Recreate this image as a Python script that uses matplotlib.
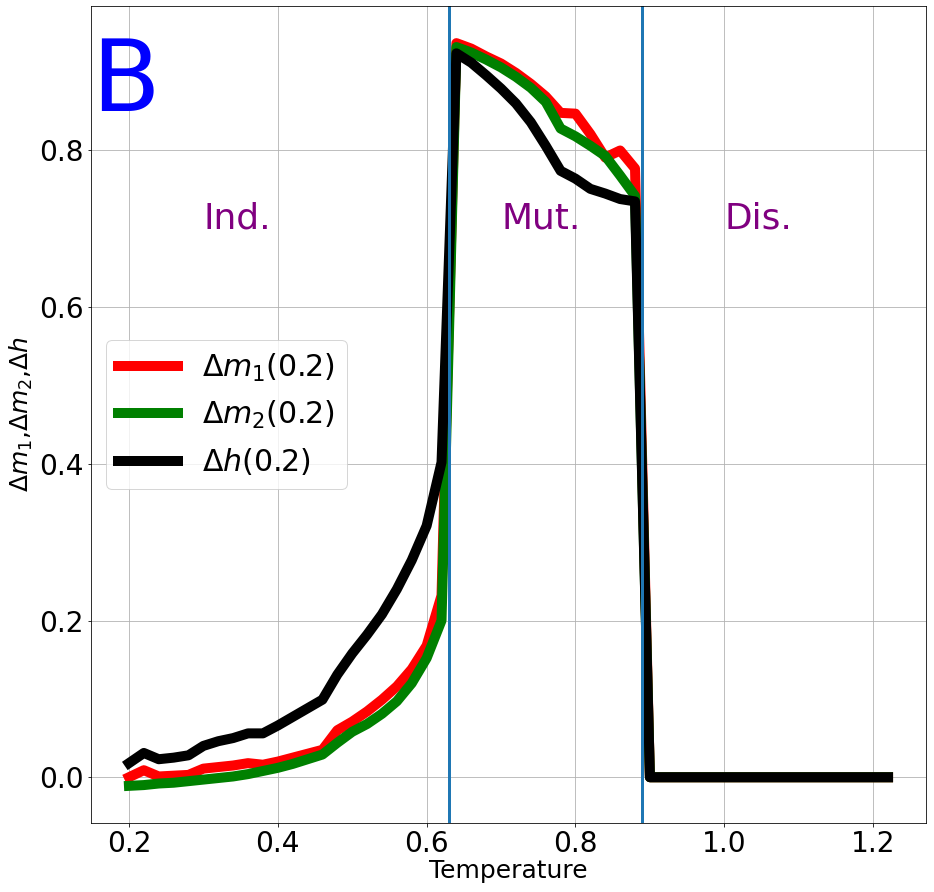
import matplotlib
matplotlib.use("Agg")
import matplotlib.pyplot as plt

temperature = [0.20, 0.22, 0.24, 0.26, 0.28, 0.30, 0.32, 0.34, 0.36, 0.38,
               0.40, 0.42, 0.44, 0.46, 0.48, 0.50, 0.52, 0.54, 0.56, 0.58,
               0.60, 0.62, 0.64, 0.66, 0.68, 0.70, 0.72, 0.74, 0.76, 0.78,
               0.80, 0.82, 0.84, 0.86, 0.88, 0.90, 0.92, 0.94, 0.96, 0.98,
               1.00, 1.02, 1.04, 1.06, 1.08, 1.10, 1.12, 1.14, 1.16, 1.18,
               1.20, 1.22]

dm1 = [0.000, 0.009, 0.001, 0.002, 0.003, 0.011, 0.013, 0.015, 0.018, 0.016,
       0.020, 0.025, 0.030, 0.035, 0.060, 0.071, 0.084, 0.099, 0.116, 0.138,
       0.168, 0.232, 0.937, 0.930, 0.920, 0.911, 0.899, 0.885, 0.869, 0.848,
       0.847, 0.821, 0.791, 0.800, 0.777, 0.0, 0.0, 0.0, 0.0, 0.0,
       0.0, 0.0, 0.0, 0.0, 0.0, 0.0, 0.0, 0.0, 0.0, 0.0,
       0.0, 0.0]

dm2 = [-0.011, -0.010, -0.008, -0.007, -0.005, -0.003, -0.001, 0.001, 0.004, 0.008,
       0.012, 0.017, 0.023, 0.029, 0.044, 0.058, 0.068, 0.081, 0.097, 0.120,
       0.152, 0.200, 0.932, 0.925, 0.916, 0.906, 0.894, 0.880, 0.862, 0.828,
       0.818, 0.806, 0.793, 0.768, 0.742, 0.0, 0.0, 0.0, 0.0, 0.0,
       0.0, 0.0, 0.0, 0.0, 0.0, 0.0, 0.0, 0.0, 0.0, 0.0,
       0.0, 0.0]

dh = [0.018, 0.031, 0.023, 0.025, 0.028, 0.040, 0.046, 0.050, 0.056, 0.056,
      0.066, 0.077, 0.088, 0.099, 0.131, 0.158, 0.182, 0.208, 0.240, 0.277,
      0.321, 0.402, 0.924, 0.912, 0.896, 0.879, 0.860, 0.836, 0.806, 0.774,
      0.764, 0.751, 0.745, 0.738, 0.735, 0.0, 0.0, 0.0, 0.0, 0.0,
      0.0, 0.0, 0.0, 0.0, 0.0, 0.0, 0.0, 0.0, 0.0, 0.0,
      0.0, 0.0]

transitions = [0.63, 0.89]
region_labels = ["Ind.", "Mut.", "Dis."]
region_x = [0.3, 0.7, 1.0]
region_y = 0.7

DPI = 72
fig = plt.figure(figsize=(934 / DPI, 892 / DPI), dpi=DPI)
ax = fig.add_axes([91 / 934, 69 / 892, 835 / 934, 817 / 892])

ax.plot(temperature, dm1, color="red", lw=10, label=r"$\Delta m_1(0.2)$")
ax.plot(temperature, dm2, color="green", lw=10, label=r"$\Delta m_2(0.2)$")
ax.plot(temperature, dh, color="black", lw=10, label=r"$\Delta h(0.2)$")
for t in transitions:
    ax.axvline(t, color="#1f77b4", lw=3)

for lab, x in zip(region_labels, region_x):
    ax.text(x, region_y, lab, color="purple", fontsize=36)

ax.text(0.149, 0.85, "B", color="blue", fontsize=100)

ax.grid(True)
ax.tick_params(labelsize=28)
ax.set_xlabel("Temperature", fontsize=25, labelpad=1)
ax.set_ylabel(r"$\Delta m_1$,$\Delta m_2$,$\Delta h$", fontsize=25)
ax.legend(loc="center left", fontsize=30)

fig.savefig("out.png", dpi=DPI)
